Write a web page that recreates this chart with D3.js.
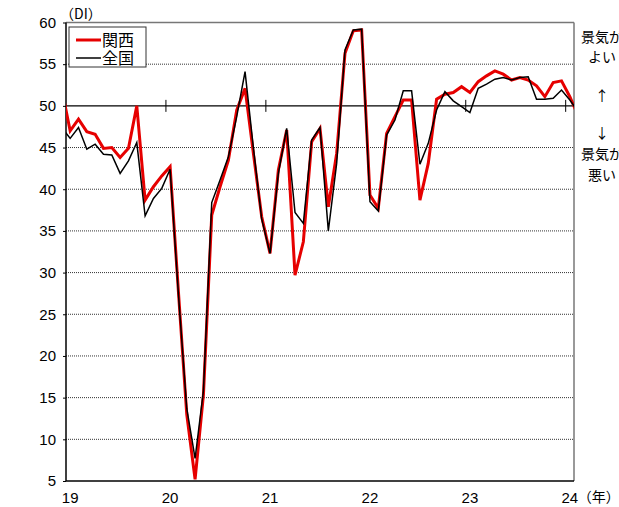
<!DOCTYPE html>
<html>
<head>
<meta charset="utf-8">
<script src="https://cdn.jsdelivr.net/npm/d3@7"></script>
<style>
  body { margin: 0; background: #fff; }
  text { font-family: "Liberation Sans", Arial, "Noto Sans CJK JP", sans-serif; fill: #000; }
  .jp { font-family: "Noto Sans CJK JP", sans-serif; }
</style>
</head>
<body>
<script>
// months (one point each); the first and last are only partly visible at the frame edges
var months = [
  "2018-12",
  "2019-01","2019-02","2019-03","2019-04","2019-05","2019-06","2019-07","2019-08","2019-09","2019-10","2019-11","2019-12",
  "2020-01","2020-02","2020-03","2020-04","2020-05","2020-06","2020-07","2020-08","2020-09","2020-10","2020-11","2020-12",
  "2021-01","2021-02","2021-03","2021-04","2021-05","2021-06","2021-07","2021-08","2021-09","2021-10","2021-11","2021-12",
  "2022-01","2022-02","2022-03","2022-04","2022-05","2022-06","2022-07","2022-08","2022-09","2022-10","2022-11","2022-12",
  "2023-01","2023-02","2023-03","2023-04","2023-05","2023-06","2023-07","2023-08","2023-09","2023-10","2023-11","2023-12",
  "2024-01","2024-02"
];

var kansai = [
  52.0,
  47.0, 48.4, 46.9, 46.6, 44.9, 45.0, 43.8, 44.9, 50.0, 38.7, 40.3, 41.6,
  42.7, 27.7, 13.0, 5.2, 15.3, 36.9, 40.3, 43.5, 49.5, 52.1, 44.3, 36.7,
  32.3, 42.3, 47.1, 29.7, 33.7, 45.7, 47.3, 37.9, 44.3, 56.3, 59.0, 59.1,
  39.3, 37.7, 46.7, 48.7, 50.7, 50.7, 38.7, 43.1, 50.8, 51.4, 51.6, 52.3,
  51.6, 52.9, 53.6, 54.2, 53.8, 53.1, 53.4, 53.1, 52.4, 51.1, 52.8, 53.0,
  51.1, 48.8
];

var zenkoku = [
  47.4,
  46.1, 47.4, 44.8, 45.4, 44.2, 44.1, 41.9, 43.4, 45.6, 36.8, 38.9, 40.1,
  42.4, 27.4, 13.7, 7.7, 15.8, 38.4, 41.1, 43.9, 48.7, 54.1, 45.0, 36.4,
  32.3, 41.9, 47.3, 37.2, 35.9, 45.9, 47.4, 35.0, 43.1, 56.7, 59.1, 59.2,
  38.5, 37.4, 46.5, 48.3, 51.8, 51.8, 43.0, 45.5, 49.5, 51.7, 50.6, 49.9,
  49.2, 52.1, 52.6, 53.2, 53.4, 53.1, 53.4, 53.5, 50.8, 50.8, 50.9, 51.9,
  50.7, 49.3
];

var yearLabels = ["19", "20", "21", "22", "23", "24"];
var yTicks = [5, 10, 15, 20, 25, 30, 35, 40, 45, 50, 55, 60];
var seriesNames = ["関西", "全国"];

var W = 619, H = 507;
var plotL = 66, plotR = 574, plotT = 22.5, plotB = 481;
var step = (plotR - plotL) / 61;

var svg = d3.select("body").append("svg")
  .attr("width", W)
  .attr("height", H);

var x = d3.scalePoint()
  .domain(months)
  .range([plotL - step / 2, plotR + step / 2]);

var y = d3.scaleLinear()
  .domain([5, 60])
  .range([plotB, plotT]);

svg.append("defs").append("clipPath")
  .attr("id", "plot")
  .append("rect")
  .attr("x", plotL).attr("y", plotT - 2)
  .attr("width", plotR - plotL).attr("height", plotB - plotT + 2);

// grid
svg.append("g").selectAll("line")
  .data(yTicks.filter(function(d) { return d > 5 && d < 60 && d != 50; }))
  .enter().append("line")
  .attr("x1", plotL).attr("x2", plotR)
  .attr("y1", function(d) { return y(d); })
  .attr("y2", function(d) { return y(d); })
  .attr("stroke", "#333")
  .attr("stroke-width", 1)
  .attr("stroke-dasharray", "1,1");

// frame top / right
svg.append("line")
  .attr("x1", plotL).attr("x2", plotR).attr("y1", y(60)).attr("y2", y(60))
  .attr("stroke", "#777").attr("stroke-width", 1.5);
svg.append("line")
  .attr("x1", plotR).attr("x2", plotR).attr("y1", y(60)).attr("y2", y(5))
  .attr("stroke", "#777").attr("stroke-width", 1.5);

// 50 line with year ticks
svg.append("line")
  .attr("x1", plotL).attr("x2", plotR).attr("y1", y(50)).attr("y2", y(50))
  .attr("stroke", "#000").attr("stroke-width", 1.2);

var yearBounds = yearLabels.slice(1).map(function(d) {
  var prev = "20" + (+d - 1) + "-12", next = "20" + d + "-01";
  return (x(prev) + x(next)) / 2;
});
svg.append("g").selectAll("line")
  .data(yearBounds)
  .enter().append("line")
  .attr("x1", function(d) { return d; })
  .attr("x2", function(d) { return d; })
  .attr("y1", y(50) - 6).attr("y2", y(50) + 6)
  .attr("stroke", "#000").attr("stroke-width", 1);

// axes
var yAxis = d3.axisLeft(y).tickValues(yTicks).tickSize(3).tickPadding(7);
var gy = svg.append("g")
  .attr("transform", "translate(" + plotL + ",0)")
  .call(yAxis);
gy.select(".domain").remove();
gy.selectAll("line").attr("stroke", "#000");
gy.selectAll("text").style("font-size", "15px");

svg.append("line")
  .attr("x1", plotL).attr("x2", plotL).attr("y1", y(60)).attr("y2", y(5))
  .attr("stroke", "#000").attr("stroke-width", 1.5);
svg.append("line")
  .attr("x1", plotL).attr("x2", plotR).attr("y1", y(5)).attr("y2", y(5))
  .attr("stroke", "#000").attr("stroke-width", 1.5);

svg.append("g").selectAll("text")
  .data(yearLabels)
  .enter().append("text")
  .attr("x", function(d) { return x("20" + d + "-01"); })
  .attr("y", 503)
  .attr("text-anchor", "middle")
  .style("font-size", "15px")
  .text(function(d) { return d; });

svg.append("text")
  .attr("class", "jp")
  .attr("x", x("2024-01") + 8)
  .attr("y", 502)
  .style("font-size", "14px")
  .text("（年）");

svg.append("text")
  .attr("class", "jp")
  .attr("x", 60)
  .attr("y", 19)
  .style("font-size", "14px")
  .text("（DI）");

// lines
var line = d3.line()
  .x(function(d, i) { return x(months[i]); })
  .y(function(d) { return y(d); });

var plot = svg.append("g").attr("clip-path", "url(#plot)");
plot.append("path")
  .datum(kansai)
  .attr("d", line)
  .attr("fill", "none")
  .attr("stroke", "#e60000")
  .attr("stroke-width", 3)
  .attr("stroke-linejoin", "miter");
plot.append("path")
  .datum(zenkoku)
  .attr("d", line)
  .attr("fill", "none")
  .attr("stroke", "#000")
  .attr("stroke-width", 1.5);

// legend
var lg = svg.append("g");
lg.append("rect")
  .attr("x", 69).attr("y", 27).attr("width", 77).attr("height", 40)
  .attr("fill", "#fff").attr("stroke", "#333").attr("stroke-width", 1);
lg.selectAll("line.key")
  .data(seriesNames)
  .enter().append("line")
  .attr("x1", 76).attr("x2", 101)
  .attr("y1", function(d, i) { return 40 + i * 18; })
  .attr("y2", function(d, i) { return 40 + i * 18; })
  .attr("stroke", function(d, i) { return i == 0 ? "#e60000" : "#000"; })
  .attr("stroke-width", function(d, i) { return i == 0 ? 3 : 1.5; });
lg.selectAll("text")
  .data(seriesNames)
  .enter().append("text")
  .attr("class", "jp")
  .attr("x", 102)
  .attr("y", function(d, i) { return 45.5 + i * 18; })
  .style("font-size", "16px")
  .text(function(d) { return d; });

// right side note
var notes = [
  { t: "景気が", y: 42 },
  { t: "よい", y: 62 },
  { t: "↑", y: 101 },
  { t: "↓", y: 138 },
  { t: "景気が", y: 159 },
  { t: "悪い", y: 180 }
];
svg.append("g").selectAll("text")
  .data(notes)
  .enter().append("text")
  .attr("class", "jp")
  .attr("x", 602)
  .attr("y", function(d) { return d.y; })
  .attr("text-anchor", "middle")
  .style("font-size", "14px")
  .text(function(d) { return d.t; });
</script>
</body>
</html>
